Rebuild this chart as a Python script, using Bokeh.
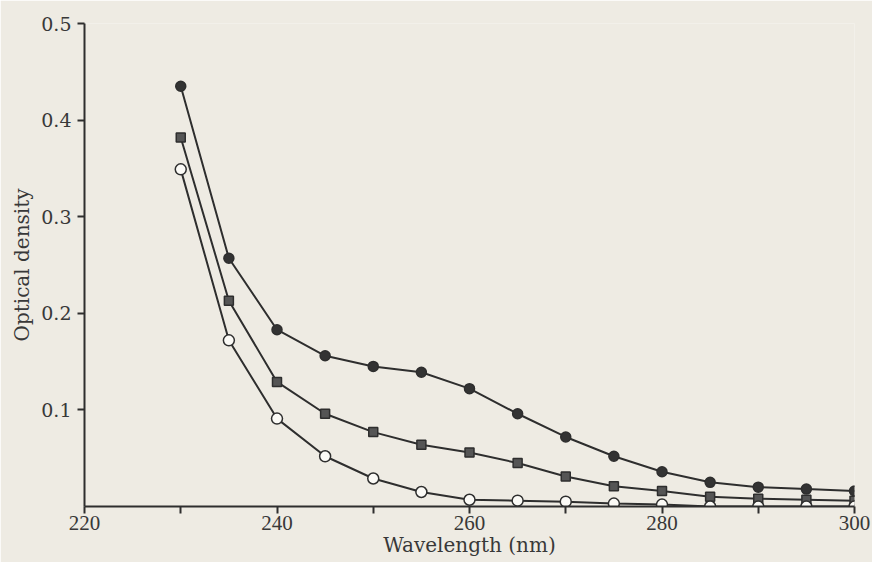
from bokeh.plotting import figure
from bokeh.models import FixedTicker, Range1d
from bokeh.embed import file_html
from bokeh.resources import INLINE

# ---- data ----
wavelength = [230, 235, 240, 245, 250, 255, 260, 265, 270, 275, 280, 285, 290, 295, 300]
od_filled_circle = [0.435, 0.257, 0.183, 0.156, 0.145, 0.139, 0.122, 0.096, 0.072, 0.052,
                    0.036, 0.025, 0.020, 0.018, 0.016]
od_filled_square = [0.382, 0.213, 0.129, 0.096, 0.077, 0.064, 0.056, 0.045, 0.031, 0.021,
                    0.016, 0.010, 0.008, 0.007, 0.006]
od_open_circle = [0.349, 0.172, 0.091, 0.052, 0.029, 0.015, 0.007, 0.006, 0.005, 0.003,
                  0.002, 0.000, 0.000, 0.000, 0.000]

x_ticks = [220, 230, 240, 250, 260, 270, 280, 290, 300]
x_tick_labels = ["220", "", "240", "", "260", "", "280", "", "300"]
y_ticks = [0.1, 0.2, 0.3, 0.4, 0.5]
y_tick_labels = ["0.1", "0.2", "0.3", "0.4", "0.5"]

PAPER = "#eeebe3"
INK = "#2e2e2e"

p = figure(width=872, height=562,
           x_range=Range1d(220, 300), y_range=Range1d(0, 0.5),
           output_backend="svg", toolbar_location=None,
           min_border_left=84, min_border_right=18,
           min_border_top=23, min_border_bottom=56)

p.background_fill_color = PAPER
p.border_fill_color = PAPER
p.outline_line_color = None
p.xgrid.visible = False
p.ygrid.visible = False

for ax in (p.xaxis[0], p.yaxis[0]):
    ax.axis_line_color = INK
    ax.axis_line_width = 2
    ax.major_tick_line_color = INK
    ax.major_tick_line_width = 2
    ax.major_tick_out = 7
    ax.major_tick_in = 0
    ax.minor_tick_line_color = None
    ax.major_label_text_color = "#383838"
    ax.axis_label_text_color = "#383838"
    ax.axis_label_text_font_style = "normal"

p.xaxis.ticker = FixedTicker(ticks=x_ticks)
p.xaxis.major_label_overrides = {t: l for t, l in zip(x_ticks, x_tick_labels)}
p.xaxis.major_label_text_font = "Liberation Serif"
p.xaxis.major_label_text_font_size = "21px"
p.xaxis.major_label_standoff = 2
p.xaxis.axis_label = "Wavelength (nm)"
p.xaxis.axis_label_text_font = "DejaVu Serif"
p.xaxis.axis_label_text_font_size = "20px"
p.xaxis.axis_label_standoff = 0

p.yaxis.ticker = FixedTicker(ticks=y_ticks)
p.yaxis.major_label_overrides = {t: l for t, l in zip(y_ticks, y_tick_labels)}
p.yaxis.major_label_text_font = "DejaVu Serif"
p.yaxis.major_label_text_font_size = "19px"
p.yaxis.major_label_standoff = 6
p.yaxis.axis_label = "Optical density"
p.yaxis.axis_label_text_font = "DejaVu Serif"
p.yaxis.axis_label_text_font_size = "20px"
p.yaxis.axis_label_standoff = 4

for ys in (od_filled_circle, od_filled_square, od_open_circle):
    p.line(wavelength, ys, line_color=INK, line_width=2)

p.scatter(wavelength, od_filled_circle, marker="circle", size=10,
          fill_color="#333333", line_color=INK, line_width=1.5)
p.scatter(wavelength, od_filled_square, marker="square", size=9,
          fill_color="#555555", line_color=INK, line_width=1.5)
p.scatter(wavelength, od_open_circle, marker="circle", size=11,
          fill_color="#fbfaf6", line_color=INK, line_width=1.5)

open("out.html", "w").write(file_html(p, INLINE))
